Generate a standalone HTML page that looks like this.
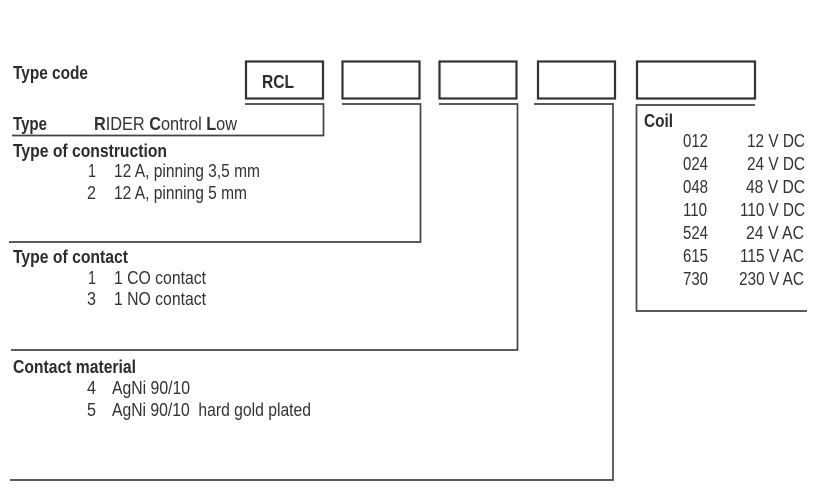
<!DOCTYPE html>
<html><head><meta charset="utf-8"><style>
html,body{margin:0;padding:0;background:#fff;width:821px;height:495px;overflow:hidden}
svg{display:block}
text{font-family:"Liberation Sans",sans-serif;fill:#333;font-size:18px}
.b{font-weight:bold;fill:#2c2c2c;font-size:18px}
</style></head><body>
<svg width="821" height="495" viewBox="0 0 821 495" xmlns="http://www.w3.org/2000/svg">
<g fill="none" stroke="#333" stroke-width="2.2">
<rect x="246" y="61.5" width="77" height="37"/>
<rect x="342.5" y="61.5" width="77" height="37"/>
<rect x="439.5" y="61.5" width="77" height="37"/>
<rect x="538" y="61.5" width="77" height="37"/>
<rect x="637" y="61.5" width="118" height="37"/>
</g>
<g fill="none" stroke="#444" stroke-width="1.7">
<path d="M245 104H323.5V135.5H12"/>
<path d="M342 104H420.5V242H9"/>
<path d="M439 104H517.5V350H11"/>
<path d="M534 104H613V480H10"/>
<path d="M755 105H636.5V311H807"/>
</g>
<text class="b" x="13" y="79" textLength="75" lengthAdjust="spacingAndGlyphs">Type code</text>
<text class="b" x="262" y="88" textLength="32" lengthAdjust="spacingAndGlyphs">RCL</text>
<text class="b" x="13" y="130" textLength="34" lengthAdjust="spacingAndGlyphs">Type</text>
<text x="94" y="130" textLength="143" lengthAdjust="spacingAndGlyphs"><tspan font-weight="bold">R</tspan>IDER <tspan font-weight="bold">C</tspan>ontrol  <tspan font-weight="bold">L</tspan>ow</text>
<text class="b" x="13" y="157" textLength="154" lengthAdjust="spacingAndGlyphs">Type of construction</text>
<text x="88" y="177" textLength="8" lengthAdjust="spacingAndGlyphs">1</text><text x="114" y="177" textLength="146" lengthAdjust="spacingAndGlyphs">12 A, pinning 3,5 mm</text>
<text x="87" y="199" textLength="9" lengthAdjust="spacingAndGlyphs">2</text><text x="114" y="199" textLength="133" lengthAdjust="spacingAndGlyphs">12 A, pinning 5 mm</text>
<text class="b" x="13" y="263" textLength="115" lengthAdjust="spacingAndGlyphs">Type of contact</text>
<text x="88" y="284" textLength="8" lengthAdjust="spacingAndGlyphs">1</text><text x="114" y="284" textLength="92" lengthAdjust="spacingAndGlyphs">1 CO contact</text>
<text x="87" y="305" textLength="9" lengthAdjust="spacingAndGlyphs">3</text><text x="114" y="305" textLength="92" lengthAdjust="spacingAndGlyphs">1 NO contact</text>
<text class="b" x="13" y="373" textLength="123" lengthAdjust="spacingAndGlyphs">Contact material</text>
<text x="87" y="394" textLength="9" lengthAdjust="spacingAndGlyphs">4</text><text x="112" y="394" textLength="78" lengthAdjust="spacingAndGlyphs">AgNi 90/10</text>
<text x="87" y="416" textLength="9" lengthAdjust="spacingAndGlyphs">5</text><text x="112" y="416" textLength="199" lengthAdjust="spacingAndGlyphs" xml:space="preserve">AgNi 90/10  hard gold plated</text>
<text class="b" x="644" y="127" textLength="29" lengthAdjust="spacingAndGlyphs">Coil</text>
<g>
<text x="683" y="147" textLength="25" lengthAdjust="spacingAndGlyphs">012</text><text x="747" y="147" textLength="58" lengthAdjust="spacingAndGlyphs">12 V DC</text>
<text x="683" y="170" textLength="25" lengthAdjust="spacingAndGlyphs">024</text><text x="747" y="170" textLength="58" lengthAdjust="spacingAndGlyphs">24 V DC</text>
<text x="683" y="193" textLength="25" lengthAdjust="spacingAndGlyphs">048</text><text x="746" y="193" textLength="59" lengthAdjust="spacingAndGlyphs">48 V DC</text>
<text x="683" y="216" textLength="24" lengthAdjust="spacingAndGlyphs">110</text><text x="740" y="216" textLength="65" lengthAdjust="spacingAndGlyphs">110 V DC</text>
<text x="683" y="239" textLength="25" lengthAdjust="spacingAndGlyphs">524</text><text x="746" y="239" textLength="58" lengthAdjust="spacingAndGlyphs">24 V AC</text>
<text x="683" y="262" textLength="25" lengthAdjust="spacingAndGlyphs">615</text><text x="740" y="262" textLength="64" lengthAdjust="spacingAndGlyphs">115 V AC</text>
<text x="683" y="285" textLength="25" lengthAdjust="spacingAndGlyphs">730</text><text x="739" y="285" textLength="65" lengthAdjust="spacingAndGlyphs">230 V AC</text>
</g>
</svg>
</body></html>
